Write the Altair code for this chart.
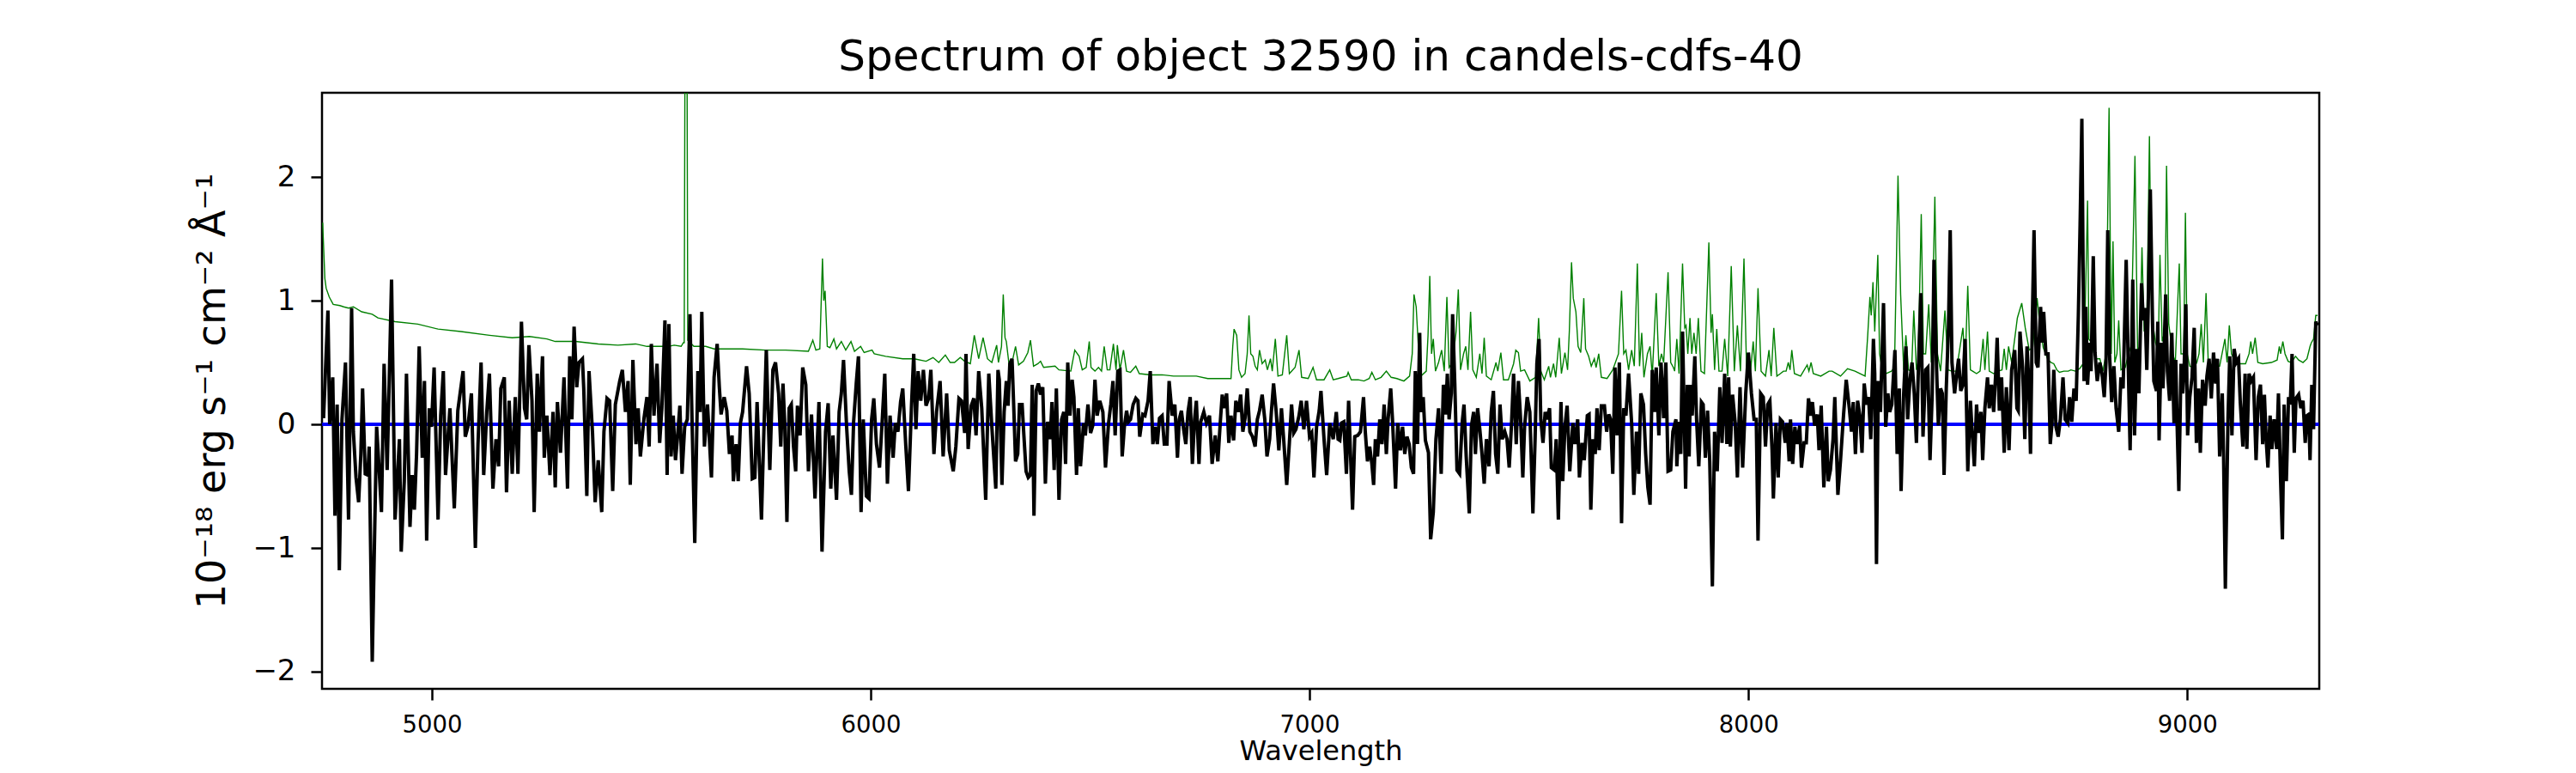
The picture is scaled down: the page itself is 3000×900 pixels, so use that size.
import altair as alt
import pandas as pd

# ---------------- data ----------------
black_wave = [
 4753,4763,4767,4774,4779,4784,4789,4795,4803,4810,4817,4821,4827,4833,4838,4842,4848,4854,4857,4864,
 4874,4879,4885,4891,4898,4908,4916,4926,4930,4937,4942,4950,4955,4960,4965,4971,4978,4983,4988,4994,
 4999,5005,5014,5020,5026,5031,5041,5051,5059,5071,5076,5082,5090,5099,5105,5112,5118,5125,5131,5139,
 5146,5152,5157,5165,5170,5176,5183,5190,5196,5204,5211,5216,5221,5228,5233,5240,5245,5252,5256,5262,
 5269,5276,5281,5286,5293,5301,5309,5314,5319,5324,5330,5335,5343,5346,5353,5358,5366,5372,5379,5387,
 5392,5399,5405,5412,5418,5428,5434,5441,5447,5452,5458,5465,5470,5475,5483,5490,5495,5500,5506,5513,
 5519,
 5524,5531,5536,5540,5545,5550,5555,5560,5565,5570,5576,5582,5588,5592,5599,5606,5611,5615,5621,5628,
 5637,5643,5650,5655,5659,5666,5672,5678,5684,5687,5693,5698,5703,5708,5717,5723,5730,5736,5741,5751,
 5755,5762,5770,5777,5783,5790,5795,5800,5804,5809,5814,5819,5824,5829,5833,5839,5845,5852,5858,5865,
 5873,5882,5889,5897,5903,5909,5914,5922,5928,5933,5938,5945,5951,5956,5961,5967,5972,5978,5983,5990,
 5996,6002,6007,6013,6020,6026,6032,6038,6044,6051,6056,6062,6068,6073,6080,6086,6093,6098,6103,6108,
 6114,6120,6126,6132,6137,6144,6150,6158,6165,6173,6179,6188,6194,6201,6207,6214,6217,6222,6229,6235,
 6240,6246,6253,6262,6269,6276,6285,6290,
 6293,6299,6304,6309,6313,6317,6322,6326,6330,6335,6339,6345,6349,6354,6359,6364,6368,6372,6377,6382,
 6387,6392,6398,6403,6409,6413,6418,6423,6429,6435,6440,6444,6449,6454,6459,6463,6469,6473,6478,6485,
 6489,6495,6501,6506,6511,6516,6522,6529,6535,6542,6547,6552,6557,6563,6568,6573,6578,6583,6587,6592,
 6598,6604,6609,6613,6620,6625,6632,6637,6643,6648,6653,6658,6664,6669,6675,6680,6687,6693,6699,6703,
 6708,6713,6718,6723,6728,6733,6738,6742,6748,6752,6759,6765,6772,6778,6785,6791,6797,6801,6806,6811,
 6816,6821,6827,6832,6838,6843,6848,6853,6858,6864,6870,6876,6881,6886,6892,6898,6903,6909,6913,6918,
 6924,6930,6936,6941,6948,6954,6959,6964,6969,6976,6981,6987,6993,7000,7005,7010,7016,7022,7026,7033,
 7039,7046,7054,7061,7065,
 7069,7073,7078,7084,7089,7093,7098,7103,7110,7116,7123,7127,7132,7137,7142,7146,7150,7155,7160,7165,
 7170,7175,7179,7185,7189,7196,7201,7207,7212,7217,7222,7227,7232,7237,7241,7246,7251,7254,7259,7264,
 7271,7276,7282,7288,7294,7300,7305,7310,7314,7318,7323,7326,7331,7336,7342,7348,7352,7357,7364,7369,
 7374,7378,7383,7388,7393,7398,7403,7409,7414,7419,7424,7429,7434,7439,7445,7450,7455,7460,7465,7471,
 7476,7481,7486,7490,7496,7502,7509,7514,7518,7523,7527,7532,7537,7541,7547,7551,7558,7562,7567,7573,
 7577,7582,7587,7593,7600,7605,7611,7615,7621,7626,7633,7637,7641,7646,7651,7655,7660,7665,7672,7677,
 7682,7686,7691,7696,7701,7706,7711,7716,7721,7727,7734,7739,7745,7750,7755,7761,7766,7771,7776,7781,
 7786,7790,7796,7801,7807,7812,7817,7823,7828,7835,
 7837,7842,7846,7850,7854,7857,7861,7865,7868,7872,7878,7882,7887,7893,7897,7902,7907,7912,7918,7923,
 7929,7935,7940,7946,7951,7955,7959,7964,7970,7975,7981,7987,7994,8000,8007,8013,8018,8022,8028,8034,
 8039,8044,8049,8054,8057,8063,8068,8073,8078,8084,8088,8093,8096,8101,8106,8111,8117,8121,8127,8132,
 8137,8142,8146,8151,8157,8161,8166,8172,8178,8182,8187,8193,8197,8204,8210,8217,8223,8230,8235,8239,
 8244,8249,8254,8259,8264,8269,8274,8279,8285,8288,8292,8296,8301,8308,8313,8318,8322,8327,8334,8339,
 8344,8348,8354,8359,8363,8368,8373,8378,8383,8387,8393,8398,8404,8409,8414,8419,8423,8429,8433,8438,
 8442,8446,8451,8456,8460,8464,8470,8474,8479,8484,8489,8494,8500,8506,8510,8515,8520,8524,8530,8534,
 8539,8545,8549,8554,8559,8564,8567,8572,8577,8583,8588,8594,8600,8607,8612,
 8615,8619,8625,8630,8635,8639,8643,8647,8651,8656,8660,8666,8669,8673,8678,8683,8688,8692,8696,8701,
 8706,8711,8717,8722,8728,8732,8737,8742,8747,8752,8756,8760,8765,8769,8773,8778,8781,8786,8790,8795,
 8801,8806,8811,8815,8819,8823,8828,8833,8838,8844,8849,8854,8861,8866,8870,8876,8880,8885,8890,8896,
 8900,8904,8908,8911,8916,8921,8924,8930,8933,8936,8941,8945,8951,8955,8960,8965,8970,8974,8977,8981,
 8986,8990,8993,8997,9001,9006,9011,9016,9021,9026,9030,9035,9041,9045,9050,9055,9060,9065,9069,9074,
 9080,9083,9087,9093,9097,9102,9107,9112,9117,9121,9127,9132,9136,9141,9146,9151,9157,9162,9167,9172,
 9176,9180,9184,9189,9193,9198,9204,9208,9213,9217,9221,9226,9231,9235,9239,9244,9248,9254,9259,9264,
 9269,9273,9277,9280,9284,9288,9293,9297,
]

black_flux = [
 0.05,0.92,0.0,0.38,-0.74,0.16,-1.18,0.04,0.5,-0.77,0.94,-0.06,-0.43,-0.63,-0.24,0.29,-0.4,-0.41,-0.18,-1.92,
 -0.02,-0.32,-0.71,0.49,-0.37,1.17,-0.77,-0.12,-1.03,-0.46,0.41,-0.83,-0.41,-0.69,-0.24,0.63,-0.27,0.35,-0.94,0.13,
 -0.02,0.46,-0.77,0.07,0.43,-0.41,0.13,-0.68,0.11,0.43,-0.1,-0.02,0.25,-1.0,-0.16,0.5,-0.41,0.1,0.41,-0.52,
 -0.12,-0.34,0.29,0.38,-0.55,0.19,-0.4,0.22,-0.4,0.83,0.13,0.04,0.64,0.19,-0.71,0.41,-0.06,0.55,-0.27,0.07,
 -0.41,0.1,-0.51,0.18,-0.23,0.38,-0.52,0.55,0.04,0.79,0.3,0.5,0.53,0.29,-0.58,0.43,-0.07,-0.63,-0.29,-0.71,
 -0.06,0.21,0.19,-0.54,0.16,0.35,0.44,0.1,0.35,-0.49,0.52,-0.16,0.13,-0.26,0.04,0.22,-0.18,0.65,0.07,0.49,
 -0.15,
 0.13,0.84,-0.41,0.81,-0.26,0.07,-0.29,-0.09,0.15,-0.4,-0.02,0.04,0.89,0.16,-0.96,0.43,0.1,0.91,-0.18,0.16,
 -0.43,0.38,0.65,0.3,0.08,0.22,0.11,-0.24,-0.09,-0.46,-0.16,-0.46,0.01,0.1,0.47,0.25,-0.44,-0.43,0.18,-0.77,
 -0.24,0.6,-0.37,0.44,0.5,0.25,-0.18,0.33,0.01,-0.79,0.13,0.16,-0.18,-0.38,0.15,-0.09,0.46,0.32,-0.38,0.08,
 -0.6,0.18,-1.03,-0.06,0.17,-0.52,-0.09,-0.61,0.1,0.25,0.52,-0.02,-0.38,-0.57,0.02,0.33,0.55,-0.71,0.04,-0.58,
 -0.6,0.04,0.21,-0.16,-0.35,0.02,0.41,-0.48,0.07,-0.27,0.01,-0.06,0.18,0.29,-0.18,-0.54,0.16,0.57,-0.04,0.43,
 0.19,0.44,0.15,0.21,0.44,-0.24,0.1,0.35,-0.26,0.25,-0.21,-0.38,-0.18,0.21,0.19,-0.07,0.57,-0.2,0.15,0.21,
 -0.09,0.43,0.13,-0.61,0.41,-0.02,-0.52,0.44,
 0.36,-0.49,0.1,0.35,0.15,0.49,0.53,0.13,-0.3,-0.24,0.16,0.16,-0.09,-0.38,-0.43,-0.41,0.32,-0.74,0.27,0.33,
 0.24,0.3,-0.48,0.02,-0.12,0.18,-0.37,0.29,-0.61,0.04,0.1,-0.32,0.5,0.07,0.36,0.22,-0.41,0.13,-0.34,0.01,
 -0.09,0.16,-0.07,-0.01,0.36,0.07,0.19,0.1,-0.35,0.01,0.16,0.35,-0.09,0.43,0.44,-0.26,-0.02,0.11,0.02,0.04,
 0.16,0.21,0.19,-0.1,0.08,0.07,0.19,0.43,-0.16,-0.02,-0.16,0.05,0.07,-0.16,-0.16,0.35,0.07,0.16,-0.27,0.04,
 0.11,-0.04,-0.16,0.1,0.22,-0.32,0.04,0.19,-0.32,0.02,0.1,0.01,0.07,-0.32,-0.09,-0.3,0.04,0.24,0.13,0.25,
 -0.15,0.07,-0.13,0.19,0.1,0.24,-0.06,0.05,0.29,-0.06,-0.1,-0.18,0.04,0.11,0.24,0.04,-0.26,-0.12,0.1,0.33,
 0.1,-0.21,0.13,-0.12,-0.49,-0.15,0.16,-0.07,-0.04,0.07,0.19,-0.04,0.19,-0.1,-0.07,-0.43,-0.02,0.11,0.27,-0.12,
 -0.41,0.01,-0.12,0.1,-0.12,
 -0.13,0.01,0.02,-0.4,0.19,-0.21,-0.69,-0.1,-0.09,-0.06,0.22,-0.06,-0.3,-0.18,-0.32,-0.49,-0.12,-0.26,0.04,-0.16,
 0.16,-0.24,0.04,0.29,0.04,-0.52,0.01,-0.21,-0.02,-0.24,-0.1,-0.16,-0.35,-0.4,0.43,-0.16,0.74,0.1,0.22,-0.13,
 -0.23,-0.93,-0.71,-0.12,0.13,-0.4,0.32,0.08,0.41,0.04,0.25,0.89,0.33,-0.37,-0.4,0.02,0.16,-0.26,-0.72,-0.01,
 0.1,-0.24,0.13,-0.04,-0.24,-0.48,-0.12,-0.34,0.1,0.27,-0.24,-0.4,0.16,-0.12,-0.06,-0.12,-0.35,-0.02,0.41,-0.16,
 0.35,0.04,-0.43,-0.02,0.22,0.1,-0.72,-0.12,0.49,0.69,0.04,-0.15,0.1,0.04,0.13,-0.35,-0.37,-0.12,-0.77,0.18,
 -0.46,-0.02,0.15,-0.38,0.01,-0.16,0.04,-0.43,-0.15,-0.29,0.07,0.08,-0.69,-0.12,-0.24,0.13,-0.21,0.15,0.15,-0.06,
 0.08,0.04,-0.4,0.46,-0.09,0.5,-0.8,0.13,0.07,0.41,0.01,-0.57,-0.06,-0.4,0.25,0.16,-0.24,-0.51,-0.65,0.44,
 0.1,0.46,-0.09,0.5,0.05,0.5,-0.38,-0.37,-0.06,0.04,
 -0.34,0.02,-0.24,0.75,0.04,-0.52,0.32,-0.26,0.32,0.07,0.55,0.04,-0.34,0.18,0.16,-0.27,0.11,-0.3,-1.31,-0.06,
 -0.38,0.3,-0.15,0.41,-0.16,0.38,-0.18,0.24,0.01,-0.43,0.3,-0.35,0.25,0.58,0.25,0.04,0.04,-0.94,0.25,0.22,
 -0.18,0.16,0.19,-0.21,-0.6,0.01,-0.43,0.04,0.02,-0.15,0.01,-0.3,0.04,-0.32,-0.02,-0.16,-0.01,-0.35,-0.15,-0.15,
 0.21,0.07,0.18,-0.01,0.08,-0.21,0.15,-0.51,-0.02,-0.46,-0.37,-0.12,0.22,-0.57,-0.29,0.08,0.36,0.13,-0.06,0.18,
 -0.24,0.19,0.07,-0.23,0.33,0.16,0.22,-0.12,0.69,0.41,-1.13,0.35,0.1,0.98,-0.02,0.25,0.1,0.16,0.6,-0.24,
 0.29,-0.54,0.25,0.63,0.04,0.35,0.5,0.25,-0.15,0.39,1.06,-0.1,0.44,0.46,-0.29,0.25,1.33,0.44,-0.01,0.29,
 0.25,-0.41,0.29,0.78,1.57,0.5,0.25,0.38,0.53,0.27,0.32,0.69,-0.38,0.19,-0.06,-0.34,0.16,-0.07,0.1,-0.29,
 0.13,0.38,0.13,0.32,0.1,0.43,0.7,0.11,0.38,-0.23,0.3,-0.21,0.44,0.6,0.13,
 0.11,0.75,0.46,-0.12,0.63,0.35,-0.24,0.81,1.57,0.5,0.46,0.95,0.66,0.91,0.57,0.57,-0.16,0.01,0.44,-0.02,
 -0.1,0.04,0.38,0.04,0.01,0.22,0.02,0.29,0.19,0.88,1.62,2.47,0.35,0.95,0.32,0.66,0.43,1.36,0.58,0.35,
 0.5,0.41,0.22,0.5,1.57,0.57,0.18,0.47,0.13,-0.06,0.38,0.29,1.33,0.43,-0.21,1.17,-0.09,0.61,0.25,1.14,
 0.84,0.94,0.44,0.91,1.9,0.83,0.35,0.27,0.83,-0.13,0.66,0.29,1.05,0.43,0.19,0.74,0.01,0.52,0.01,-0.54,
 0.49,0.25,0.44,0.97,-0.09,0.22,0.38,0.78,-0.15,0.29,-0.23,0.36,0.15,0.39,0.53,0.21,0.58,0.33,0.53,-0.26,
 0.25,-0.26,-1.33,0.05,0.55,-0.09,0.61,0.5,0.53,0.18,-0.18,0.41,-0.2,0.41,0.35,0.38,-0.29,0.22,0.32,-0.16,
 0.24,-0.12,-0.35,0.07,-0.2,0.04,-0.2,0.25,-0.46,-0.93,0.16,-0.46,0.22,0.16,0.57,-0.23,0.21,0.24,0.13,0.19,
 -0.15,0.07,0.08,-0.29,0.32,-0.04,0.83,0.8,
]

green_wave = [
 4751,4753,4756,4759,4766,4775,4790,4799,4810,4821,4840,4864,4877,4916,4968,5014,5066,5131,5183,5222,
 5262,5281,5327,5379,5424,5464,5490,
 5513,5539,5552,5568,5573,5575,5577,5581,5583,5597,5624,5643,5682,5708,5760,5806,5858,5868,5875,5884,
 5890,5893,5896,5901,5907,5916,5922,5933,5943,5955,5963,5977,5985,6003,6008,6034,6073,6099,6126,6142,
 6155,6170,6181,6191,6204,6214,6227,6236,6246,6256,6266,6276,6287,
 6291,6298,6302,6306,6309,6315,6322,6330,6337,6348,6358,6364,6371,6381,6387,6394,6420,6429,6456,6465,
 6475,6482,6491,6498,6502,6511,6519,6526,6532,6539,6545,6553,6559,6562,6568,6576,6583,6592,6604,6612,
 6638,6664,6690,6742,6768,6821,6825,6828,6834,6839,6845,6853,6858,6862,6866,6871,6876,6881,6886,6892,
 6899,6904,6911,6915,6922,6928,6938,6948,6954,6967,6976,6982,6997,7008,7016,7033,7046,7054,
 7065,7085,7088,7095,7111,7124,7136,7142,7150,7163,7175,7186,7199,7215,7228,7234,7238,7243,7248,7254,
 7266,7270,7274,7278,7282,7287,7294,7301,7307,7313,7318,7326,7334,7339,7344,7351,7356,7361,7367,7372,
 7380,7388,7393,7398,7403,7414,7425,7429,7436,7442,7453,7465,7470,7476,7481,7490,7502,7515,7522,7527,
 7535,7545,7549,7556,7561,7569,7574,7582,7588,7592,7597,7601,7607,7612,7618,7625,7629,7636,7642,7649,
 7653,7659,7665,7678,7691,7704,7711,7716,7721,7727,7734,7740,7747,7752,7757,7762,7770,7776,7781,7790,
 7796,7802,7807,7817,7823,7829,
 7832,7837,7842,7850,7855,7858,7862,7867,7871,7876,7881,7886,7892,7900,7910,7915,7918,7923,7928,7933,
 7940,7946,7953,7961,7968,7975,7982,7990,7996,8005,8011,8016,8022,8029,8039,8047,8052,8058,8065,8073,
 8080,8086,8091,8095,8099,8105,8119,8134,8138,8143,8148,8165,8184,8191,8210,8226,8243,8266,8272,8277,
 8280,8284,8288,8295,8299,8305,8314,8326,8333,8341,8347,8354,8359,8365,8372,8377,8383,8387,8394,8399,
 8404,8411,8417,8425,8431,8438,8448,8455,8464,8474,8489,8494,8500,8506,8511,8520,8528,8535,8539,8545,
 8549,8559,8569,8578,8583,8588,8593,8600,8608,8613,
 8623,8631,8640,8648,8658,8664,8672,8683,8690,8696,8703,8709,8719,8729,8735,8745,8755,8765,8773,8776,
 8782,8791,8801,8808,8815,8822,8827,8831,8835,8840,8844,8849,8859,8866,8872,8881,8887,8892,8897,8902,
 8908,8914,8919,8928,8934,8938,8943,8949,8953,8958,8967,8973,8982,8986,8992,8996,9000,9006,9016,9022,
 9027,9032,9037,9043,9048,9061,9074,9086,9091,9096,9101,9110,9120,9133,9141,9145,9149,9155,9161,9172,
 9192,9205,9210,9213,9218,9223,9230,9237,9247,9254,9264,9273,9280,9283,9288,9293,9297,
]

green_err = [
 1.63,1.45,1.18,1.1,1.03,0.97,0.96,0.95,0.94,0.95,0.91,0.89,0.86,0.83,0.81,0.77,0.75,0.72,0.7,0.71,
 0.69,0.67,0.67,0.65,0.64,0.65,0.63,
 0.63,0.63,0.64,0.63,0.66,0.66,3.5,3.5,0.68,0.63,0.63,0.61,0.61,0.61,0.6,0.6,0.59,0.68,0.6,0.61,
 1.34,1.0,1.08,0.63,0.62,0.69,0.61,0.67,0.6,0.67,0.59,0.63,0.58,0.6,0.57,0.55,0.53,0.53,0.51,0.54,
 0.5,0.56,0.5,0.5,0.54,0.51,0.49,0.72,0.53,0.7,0.53,0.5,0.64,
 0.5,0.63,1.05,0.7,0.67,0.49,0.5,0.63,0.48,0.51,0.58,0.68,0.47,0.49,0.51,0.46,0.47,0.44,0.43,0.6,
 0.55,0.44,0.46,0.67,0.46,0.43,0.46,0.43,0.63,0.44,0.44,0.65,0.44,0.64,0.44,0.6,0.43,0.42,0.47,0.41,
 0.4,0.4,0.39,0.39,0.37,0.37,0.63,0.77,0.72,0.44,0.38,0.41,0.57,0.88,0.57,0.55,0.47,0.44,0.6,0.49,
 0.52,0.44,0.53,0.43,0.69,0.39,0.4,0.72,0.41,0.46,0.6,0.38,0.37,0.46,0.36,0.36,0.44,0.36,
 0.37,0.39,0.42,0.36,0.36,0.35,0.37,0.42,0.36,0.38,0.43,0.38,0.37,0.35,0.39,0.57,1.05,0.95,0.63,0.39,
 0.43,0.72,1.2,0.57,0.69,0.43,0.5,0.6,0.43,1.03,0.46,0.5,0.75,1.09,0.44,0.57,0.63,0.44,0.91,0.44,
 0.38,0.57,0.41,0.7,0.39,0.36,0.5,0.43,0.58,0.36,0.36,0.49,0.6,0.58,0.43,0.44,0.35,0.38,0.86,0.43,
 0.36,0.47,0.38,0.49,0.38,0.7,0.41,0.58,0.44,0.75,1.31,1.02,0.91,0.63,0.58,1.02,0.61,0.55,0.47,0.53,
 0.46,0.57,0.38,0.37,0.44,0.57,1.08,0.57,0.6,0.44,0.6,0.47,1.3,0.47,0.74,0.38,0.57,0.63,0.39,1.06,
 0.47,0.57,0.5,1.23,0.5,0.46,
 0.43,0.69,0.41,1.3,0.78,0.8,0.57,0.86,0.57,0.74,0.57,0.86,0.43,0.41,1.47,0.74,0.89,0.44,0.77,0.43,
 0.43,0.69,0.39,1.28,0.43,0.8,0.43,1.34,0.43,0.43,0.67,0.43,1.1,0.43,0.39,0.6,0.39,0.78,0.39,0.41,
 0.43,0.43,0.5,0.44,0.6,0.41,0.39,0.48,0.43,0.5,0.41,0.39,0.43,0.43,0.39,0.45,0.43,0.39,0.72,1.03,
 0.88,1.15,0.75,1.37,0.57,0.44,0.41,0.43,0.46,2.01,1.05,0.44,0.72,0.44,0.43,0.92,0.44,0.5,1.7,0.57,
 0.57,0.97,0.5,1.84,0.57,0.43,0.92,0.44,0.43,0.43,0.78,0.48,1.12,0.44,0.43,0.41,0.43,0.69,0.44,0.75,
 0.43,0.41,0.43,0.44,0.61,0.44,0.63,0.5,0.72,0.86,
 0.98,0.78,0.6,0.62,1.02,0.81,0.62,0.52,0.5,0.49,0.44,0.42,0.43,0.43,0.44,0.43,0.45,0.5,1.81,0.69,
 0.66,0.53,0.53,0.43,0.57,2.56,0.57,1.48,0.5,0.57,0.84,0.44,0.46,0.57,0.63,2.17,0.59,0.63,1.43,0.75,
 0.81,2.33,0.88,0.66,0.59,1.37,0.67,0.75,2.09,0.81,0.57,0.5,1.3,0.57,0.57,1.71,0.57,0.47,0.46,0.5,
 0.57,0.81,0.5,1.06,0.5,0.47,0.47,0.69,0.5,0.8,0.57,0.5,0.49,0.49,0.57,0.67,0.57,0.7,0.5,0.49,
 0.5,0.52,0.63,0.57,0.67,0.57,0.51,0.5,0.55,0.52,0.5,0.53,0.63,0.66,0.69,0.88,0.88,
]

blue_wave = [4750, 9300]
blue_level = [0.0, 0.0]

x_ticks = [5000, 6000, 7000, 8000, 9000]
y_ticks = [-2, -1, 0, 1, 2]

title_text = "Spectrum of object 32590 in candels-cdfs-40"
x_title = "Wavelength"
y_title = "10\u207b\u00b9\u2078 erg s\u207b\u00b9 cm\u207b\u00b2 \u00c5\u207b\u00b9"

# ---------------- chart ----------------
black_df = pd.DataFrame({"wave": black_wave, "flux": black_flux})
green_df = pd.DataFrame({"wave": green_wave, "flux": green_err})
blue_df = pd.DataFrame({"wave": blue_wave, "flux": blue_level})

FONT = "DejaVu Sans"

x_axis = alt.Axis(values=x_ticks, format="d", grid=False, domain=False,
                  labelFontSize=27.5, labelFont=FONT, labelColor="black",
                  labelPadding=15, tickSize=13, tickWidth=2.5, tickColor="black",
                  title=x_title, titleFont=FONT, titleFontSize=32,
                  titleFontWeight="normal", titleColor="black", titlePadding=2)
y_axis = alt.Axis(values=y_ticks, format="d", grid=False, domain=False,
                  labelFontSize=34, labelFont=FONT, labelColor="black",
                  labelPadding=18, tickSize=13, tickWidth=2.5, tickColor="black",
                  title=y_title, titleFont=FONT, titleFontSize=46,
                  titleFontWeight="normal", titleColor="black", titlePadding=22)

x_scale = alt.Scale(domain=[4749.5, 9301], nice=False, zero=False)
y_scale = alt.Scale(domain=[-2.139, 2.681], nice=False, zero=False)


def line(df, color, width):
    return alt.Chart(df).mark_line(color=color, strokeWidth=width, clip=True).encode(
        x=alt.X("wave:Q", scale=x_scale, axis=x_axis),
        y=alt.Y("flux:Q", scale=y_scale, axis=y_axis),
        order="wave:Q",
    )


chart = alt.layer(
    line(green_df, "#008000", 1.4),
    line(blue_df, "#0000ff", 4),
    line(black_df, "#000000", 4),
).properties(
    width=2326,
    height=694,
    title=alt.TitleParams(text=title_text, font=FONT, fontSize=50, fontWeight="normal",
                          color="black", anchor="middle", frame="group", offset=14,
                          baseline="alphabetic", dy=38),
    padding={"left": 367, "top": 100, "right": 291, "bottom": 90},
    autosize=alt.AutoSizeParams(type="none"),
).configure(
    font=FONT, background="white"
).configure_view(
    stroke="black", strokeWidth=2.5
)

chart.save("out.html", embed_options={"renderer": "svg", "actions": False})
